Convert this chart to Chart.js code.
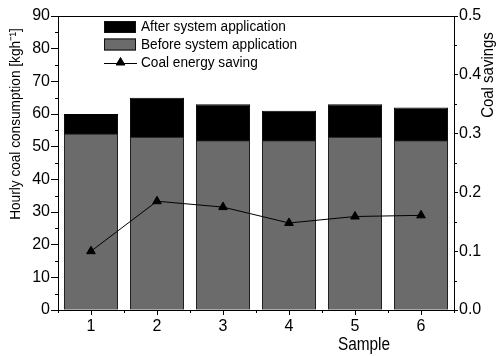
<!DOCTYPE html>
<html>
<head>
<meta charset="utf-8">
<script src="https://cdn.jsdelivr.net/npm/chart.js@4/dist/chart.umd.min.js"></script>
<style>
  html, body { margin: 0; padding: 0; background: #fff; }
  #wrap { width: 500px; height: 356px; position: relative; }
</style>
</head>
<body>
<div id="wrap"><canvas id="chart"></canvas></div>
<script>
// Samples along the x axis
const samples = ['1', '2', '3', '4', '5', '6'];
// Hourly coal consumption, kg/h
const afterApplication = [60, 65, 63, 61, 63, 62];
const beforeApplication = [54, 53, 52, 52, 53, 52];
// Coal savings (fraction)
const coalSaving = [0.100, 0.185, 0.175, 0.148, 0.159, 0.161];

const seriesNames = ['After system application', 'Before system application', 'Coal energy saving'];
const leftTitle = 'Hourly coal consumption [kgh\u207B\u00B9]';
const rightTitle = 'Coal savings';
const bottomTitle = 'Sample';

const FONT = "'Liberation Sans', Arial, sans-serif";
const INK = '#000';
const GREY = '#6b6b6b';
const SQUEEZE = 0.88; // horizontal compression for a condensed look

// Draws a label with slightly condensed glyphs, optionally rotated
function drawLabel(ctx, text, x, y, size, align, angle) {
  ctx.save();
  ctx.translate(x, y);
  if (angle) ctx.rotate(angle);
  ctx.scale(SQUEEZE, 1);
  ctx.font = size + 'px ' + FONT;
  ctx.textAlign = align;
  ctx.textBaseline = 'middle';
  ctx.fillStyle = INK;
  ctx.fillText(text, 0, 0);
  ctx.restore();
}

// Frame top edge, minor ticks, axis titles and legend
const decorations = {
  id: 'decorations',
  afterDraw(chart) {
    const { ctx, chartArea: a, scales } = chart;
    const y = scales.y, y1 = scales.y1, x = scales.x;
    ctx.save();
    ctx.strokeStyle = INK;
    ctx.lineWidth = 1;
    ctx.beginPath();
    // top frame line
    ctx.moveTo(a.left, Math.round(a.top) + 0.5);
    ctx.lineTo(a.right + 0.5, Math.round(a.top) + 0.5);
    // left minor ticks
    for (let v = 5; v < 90; v += 10) {
      const py = Math.round(y.getPixelForValue(v)) + 0.5;
      ctx.moveTo(a.left - 3, py); ctx.lineTo(a.left, py);
    }
    // right minor ticks
    for (let k = 0; k < 5; k++) {
      const py = Math.round(y1.getPixelForValue(0.05 + k * 0.1)) + 0.5;
      ctx.moveTo(a.right, py); ctx.lineTo(a.right + 3, py);
    }
    // x minor ticks at category boundaries
    for (let i = 0; i <= samples.length; i++) {
      const px = Math.round(x.getPixelForValue(i - 0.5)) + 0.5;
      ctx.moveTo(px, a.bottom); ctx.lineTo(px, a.bottom + 3);
    }
    ctx.stroke();

    // axis titles
    drawLabel(ctx, leftTitle, 16, 124, 15.5, 'center', -Math.PI / 2);
    drawLabel(ctx, rightTitle, 488, 75, 17, 'center', -Math.PI / 2);
    drawLabel(ctx, bottomTitle, 364, 345, 17.5, 'center', 0);

    // legend
    const ds = chart.data.datasets;
    const bx = 104, bw = 32, bh = 12, tx = 141;
    const rows = [27, 44.5, 63];
    for (let i = 0; i < 2; i++) {
      ctx.fillStyle = ds[i].backgroundColor;
      ctx.fillRect(bx, rows[i] - bh / 2, bw, bh);
      ctx.strokeStyle = '#111';
      ctx.strokeRect(bx + 0.5, rows[i] - bh / 2 + 0.5, bw - 1, bh - 1);
      drawLabel(ctx, ds[i].label, tx, rows[i], 15.5, 'left', 0);
    }
    const ly = Math.round(rows[2]) + 0.5;
    ctx.strokeStyle = INK;
    ctx.fillStyle = INK;
    ctx.beginPath();
    ctx.moveTo(bx, ly); ctx.lineTo(bx + bw + 1, ly);
    ctx.stroke();
    Chart.helpers.drawPoint(ctx, { pointStyle: 'triangle', radius: 5, borderWidth: 1, rotation: 0 }, bx + bw / 2 + 0.5, ly - 1);
    drawLabel(ctx, ds[2].label, tx, rows[2], 15.5, 'left', 0);
    ctx.restore();
  }
};

const tickFont = { family: FONT, size: 16 };

new Chart(document.getElementById('chart'), {
  data: {
    labels: samples,
    datasets: [
      {
        type: 'bar',
        label: seriesNames[0],
        data: afterApplication,
        backgroundColor: '#000',
        borderColor: '#000',
        borderWidth: 1,
        yAxisID: 'y',
        order: 2
      },
      {
        type: 'bar',
        label: seriesNames[1],
        data: beforeApplication,
        backgroundColor: GREY,
        borderColor: '#1e1e1e',
        borderWidth: 1,
        yAxisID: 'y',
        order: 1
      },
      {
        type: 'line',
        label: seriesNames[2],
        data: coalSaving,
        borderColor: '#000',
        backgroundColor: '#000',
        borderWidth: 1,
        pointStyle: 'triangle',
        pointRadius: 5,
        pointHoverRadius: 5,
        pointBorderWidth: 1,
        tension: 0,
        yAxisID: 'y1',
        order: 0
      }
    ]
  },
  options: {
    responsive: true,
    maintainAspectRatio: false,
    devicePixelRatio: 1,
    animation: false,
    layout: { padding: { top: 16, left: 0, right: 0, bottom: 0 } },
    datasets: { bar: { barPercentage: 0.82, categoryPercentage: 1 } },
    plugins: { legend: { display: false }, tooltip: { enabled: false } },
    scales: {
      x: {
        stacked: true,
        offset: true,
        grid: { offset: false, drawOnChartArea: false, tickLength: 5, color: INK, tickColor: INK },
        border: { color: INK, width: 1 },
        ticks: { font: tickFont, color: INK, padding: 2 },
        afterFit(scale) { scale.height = 46; }
      },
      y: {
        position: 'left',
        stacked: false,
        min: 0,
        max: 90,
        grid: { drawOnChartArea: false, tickLength: 7, color: INK, tickColor: INK },
        border: { color: INK, width: 1 },
        ticks: { stepSize: 10, font: tickFont, color: INK, padding: 1 },
        afterFit(scale) { scale.width = 58; }
      },
      y1: {
        position: 'right',
        min: 0,
        max: 0.5,
        grid: { drawOnChartArea: false, tickLength: 4, color: INK, tickColor: INK },
        border: { color: INK, width: 1 },
        ticks: { stepSize: 0.1, font: tickFont, color: INK, padding: 1, callback: v => v.toFixed(1) },
        afterFit(scale) { scale.width = 46; }
      }
    }
  },
  plugins: [decorations]
});
</script>
</body>
</html>
